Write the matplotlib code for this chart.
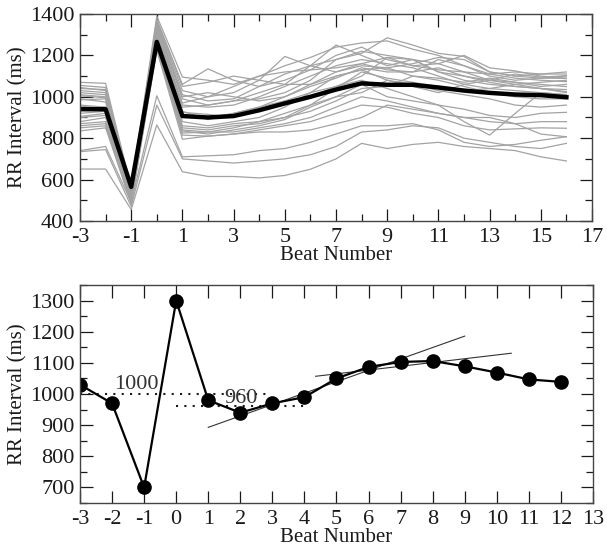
#!/usr/bin/env python3
"""
Heart rate turbulence: RR intervals around a premature beat.

Top: individual tachograms (grey) with their mean (black).
Bottom: averaged tachogram with the turbulence onset / slope construction.

Run:  python plot.py
"""
import matplotlib
matplotlib.use("Agg")
import matplotlib.pyplot as plt
from matplotlib.ticker import FixedLocator, MultipleLocator

# ---- top panel data: beats -3 .. 16 ---------------------------------------
beats_top = list(range(-3, 17))
top_xticks = [-3, -1, 1, 3, 5, 7, 9, 11, 13, 15, 17]

g01 = [1070, 1065, 560, 1390, 1095, 1080, 1060, 1100, 1150, 1190, 1240, 1260, 1270, 1230, 1200, 1150, 1110, 1120, 1110, 1120]
g02 = [1055, 1045, 545, 1375, 1060, 1135, 1080, 1050, 1110, 1150, 1180, 1210, 1285, 1250, 1210, 1195, 1120, 1100, 1090, 1100]
g03 = [1045, 1030, 555, 1365, 1030, 1000, 1020, 1080, 1195, 1150, 1120, 1160, 1190, 1180, 1160, 1200, 1140, 1125, 1100, 1090]
g04 = [1030, 1020, 530, 1355, 1010, 980, 990, 1050, 1080, 1130, 1200, 1240, 1180, 1150, 1130, 1120, 1110, 1090, 1080, 1073]
g05 = [1020, 1010, 520, 1345, 990, 960, 980, 1020, 1060, 1150, 1250, 1200, 1150, 1180, 1120, 1100, 1080, 1070, 1060, 1049]
g06 = [1005, 995, 510, 1335, 970, 1000, 1050, 1100, 1120, 1130, 1140, 1160, 1130, 1120, 1180, 1150, 1100, 1080, 1090, 1089]
g07 = [990, 975, 520, 1325, 950, 960, 980, 990, 1020, 1080, 1180, 1220, 1200, 1180, 1120, 1080, 1060, 1050, 1040, 1025]
g08 = [960, 950, 500, 1315, 930, 890, 920, 950, 1000, 1060, 1120, 1150, 1140, 1100, 1090, 1070, 1090, 1070, 1050, 1060]
g09 = [955, 945, 510, 1305, 925, 915, 900, 940, 980, 1000, 1050, 1100, 1190, 1150, 1160, 1120, 1080, 1060, 1070, 1080]
g10 = [920, 930, 530, 1295, 880, 860, 880, 900, 950, 1020, 1100, 1130, 1080, 1050, 1020, 1060, 1080, 1110, 1095, 1102]
g11 = [905, 920, 540, 1285, 860, 850, 870, 880, 900, 960, 1040, 1120, 1090, 1070, 1050, 1030, 1040, 1060, 1040, 1020]
g12 = [900, 910, 520, 1275, 850, 840, 860, 870, 900, 930, 980, 1040, 1050, 1100, 1080, 1050, 1020, 1000, 990, 990]
g13 = [880, 900, 500, 1265, 840, 830, 850, 880, 920, 960, 1000, 1020, 1080, 1060, 1030, 1010, 990, 960, 950, 960]
g14 = [870, 880, 510, 1255, 835, 820, 840, 860, 890, 950, 1000, 1060, 1000, 980, 960, 940, 910, 900, 920, 925]
g15 = [860, 870, 490, 1245, 825, 830, 830, 850, 870, 900, 950, 1000, 980, 950, 920, 900, 880, 870, 880, 880]
g16 = [850, 860, 480, 1235, 815, 810, 820, 840, 860, 880, 920, 960, 950, 920, 900, 860, 840, 845, 850, 848]
g17 = [835, 850, 490, 1225, 795, 810, 820, 830, 830, 840, 870, 900, 960, 940, 920, 900, 900, 870, 820, 807]
g18 = [945, 950, 540, 1300, 905, 900, 920, 950, 980, 1020, 1050, 1080, 1040, 1000, 960, 880, 815, 920, 1020, 1010]
g19 = [1010, 1000, 520, 1350, 1000, 1020, 1000, 980, 1000, 1050, 1090, 1140, 1120, 1120, 1140, 1100, 1070, 1050, 1040, 1035]
g20 = [740, 760, 490, 1005, 710, 715, 720, 740, 750, 780, 820, 860, 860, 870, 840, 780, 760, 770, 790, 807]
g21 = [735, 745, 470, 960, 700, 690, 680, 690, 700, 720, 760, 830, 840, 860, 850, 800, 780, 760, 750, 775]
g22 = [651, 651, 455, 864, 638, 615, 615, 608, 620, 650, 700, 775, 750, 770, 780, 760, 750, 740, 710, 690]
g23 = [1040, 1035, 540, 1370, 1050, 1070, 1100, 1080, 1060, 1060, 1100, 1130, 1140, 1160, 1190, 1180, 1120, 1100, 1110, 1110]
g24 = [985, 990, 515, 1320, 960, 950, 960, 1000, 1050, 1100, 1150, 1180, 1160, 1140, 1100, 1060, 1040, 1030, 1020, 1010]

mean_top = [940, 940, 565, 1265, 907, 900, 907, 935, 968, 1000, 1035, 1065, 1058, 1058, 1045, 1030, 1019, 1011, 1008, 998]

# ---- bottom panel data: beats -3 .. 12 ------------------------------------
beats_bot = list(range(-3, 13))
rr_bot = [1030, 970, 700, 1300, 980, 940, 970, 990, 1050, 1087, 1103, 1106, 1089, 1069, 1047, 1039]

# reference levels (mean before / after the premature beat)
ref_levels = [1000, 960]
ref_starts = [-3, 0]
ref_ends = [2.9, 4]
ref_labels = ["1000", "960"]
ref_label_x = [-1.95, 1.5]
ref_label_y = [1032, 985]

# regression lines used for the turbulence slope
slope_a_x = [1, 9]
slope_a_y = [893, 1186]
slope_b_x = [4.35, 10.45]
slope_b_y = [1057, 1131]

FONT = "Liberation Serif"
INK = "#1a1a1a"
FS = 16


def style_axes(ax):
    ax.tick_params(which="both", direction="in", top=True, right=True,
                   colors=INK, labelsize=FS, width=0.9)
    ax.tick_params(which="major", length=9)
    ax.tick_params(which="minor", length=5)
    ax.tick_params(axis="x", which="major", pad=5)
    ax.tick_params(axis="y", which="major", pad=4)
    for sp in ax.spines.values():
        sp.set_linewidth(1.0)
        sp.set_color("#444444")


def main():
    plt.rcParams["font.family"] = [FONT, "DejaVu Serif"]
    plt.rcParams["axes.unicode_minus"] = False

    fig = plt.figure(figsize=(6.07, 5.47), dpi=100)
    ax1 = fig.add_axes([0.1318, 0.5960, 0.8435, 0.3784])
    ax2 = fig.add_axes([0.1318, 0.0804, 0.8451, 0.3985])

    # ---- top --------------------------------------------------------------
    patients = [g01, g02, g03, g04, g05, g06, g07, g08, g09, g10, g11, g12,
                g13, g14, g15, g16, g17, g18, g19, g20, g21, g22, g23, g24]
    for rr in patients:
        ax1.plot(beats_top, rr, color="#a3a3a3", lw=0.9)
    ax1.plot(beats_top, mean_top, color="black", lw=3.2)

    ax1.set_xlim(-3, 17)
    ax1.set_ylim(400, 1400)
    ax1.xaxis.set_major_locator(FixedLocator(top_xticks))
    ax1.xaxis.set_minor_locator(MultipleLocator(1))
    ax1.yaxis.set_major_locator(MultipleLocator(200))
    ax1.yaxis.set_minor_locator(MultipleLocator(100))
    ax1.set_xlabel("Beat Number", fontsize=FS - 1, color=INK, labelpad=-1)
    ax1.set_ylabel("RR Interval (ms)", fontsize=FS - 1, color=INK, labelpad=2)
    style_axes(ax1)

    # ---- bottom -----------------------------------------------------------
    for lvl, x0, x1 in zip(ref_levels, ref_starts, ref_ends):
        ax2.plot([x0, x1], [lvl, lvl], color=INK, lw=1.5,
                 linestyle=(0, (1, 3)))
    for txt, tx, ty in zip(ref_labels, ref_label_x, ref_label_y):
        ax2.text(tx, ty, txt, fontsize=FS, color="#333333",
                 ha="left", va="center")

    ax2.plot(slope_a_x, slope_a_y, color="#333333", lw=0.8)
    ax2.plot(slope_b_x, slope_b_y, color="#333333", lw=0.8)
    ax2.plot(beats_bot, rr_bot, color="black", lw=1.6, marker="o",
             markersize=9.5, markerfacecolor="black", markeredgecolor="black")

    ax2.set_xlim(-3, 13)
    ax2.set_ylim(650, 1350)
    ax2.xaxis.set_major_locator(MultipleLocator(1))
    ax2.yaxis.set_major_locator(MultipleLocator(100))
    ax2.yaxis.set_minor_locator(MultipleLocator(50))
    ax2.set_xlabel("Beat Number", fontsize=FS - 1, color=INK, labelpad=-1)
    ax2.set_ylabel("RR Interval (ms)", fontsize=FS - 1, color=INK, labelpad=2)
    style_axes(ax2)

    fig.savefig("out.png", dpi=100)


if __name__ == "__main__":
    main()
